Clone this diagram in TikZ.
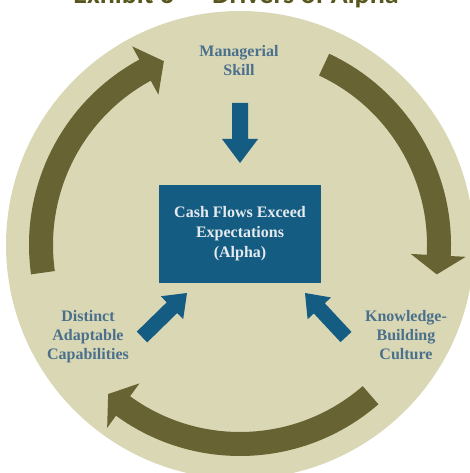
\documentclass[tikz,border=0pt]{standalone}
\usepackage{fontspec}
\setmainfont{Liberation Serif}
\newfontfamily\titlefont{Carlito}
\usetikzlibrary{calc}

\definecolor{disc}{RGB}{218,215,181}
\definecolor{cyclecol}{RGB}{104,99,50}
\definecolor{boxblue}{RGB}{21,92,130}
\definecolor{labelblue}{RGB}{74,112,140}
\definecolor{boxtext}{RGB}{228,234,238}
\definecolor{titleol}{RGB}{88,86,30}

% curved band arrow around (C): tail angle, head base angle, tip angle
\newcommand\cyclearrow[3]{%
  \fill[cyclecol, shift={(C)}]
    (#1:211) arc[start angle=#1, end angle=#2, radius=211]
    -- (#2:226) -- (#3:199) -- (#2:171) -- (#2:187)
    arc[start angle=#2, end angle=#1, radius=187] -- cycle;}

% straight block arrow: tail, tip, half shaft width, half head width, head length
\newcommand\blockarrow[5]{%
  \coordinate (ba-h) at ($(#2)!#5!(#1)$);
  \fill[boxblue]
    ($(#1)!#3!90:(#2)$) -- ($(ba-h)!#3!90:(#2)$) -- ($(ba-h)!#4!90:(#2)$)
    -- (#2)
    -- ($(ba-h)!#4!-90:(#2)$) -- ($(ba-h)!#3!-90:(#2)$) -- ($(#1)!#3!-90:(#2)$)
    -- cycle;}

\begin{document}
\begin{tikzpicture}[x=1pt,y=1pt,
  lbl/.style={font=\bfseries\fontsize{16}{19}\selectfont, text=labelblue,
    align=center, inner sep=0pt},
  centrebox/.style={fill=boxblue, text=boxtext, align=center, inner sep=0pt,
    minimum width=162pt, minimum height=98pt,
    font=\bfseries\fontsize{16}{20}\selectfont},
  titletext/.style={font=\titlefont\bfseries\fontsize{28}{30}\selectfont,
    text=titleol, inner sep=0pt}]
\useasboundingbox (0,0) rectangle (470,473);
\clip (0,0) rectangle (470,473);

% background disc
\coordinate (C) at (240,228);
\fill[disc] (C) circle[radius=234];

% heading
\node[titletext, anchor=base] (title) at (236,469) {Exhibit 3 — Drivers of Alpha};

% clockwise cycle of the three drivers
\cyclearrow{188}{118.5}{112.5}
\cyclearrow{65}{-3}{-8.5}
\cyclearrow{-49}{-126}{-131.5}

% drivers and outcome
\node[lbl] (mgr) at (239,412.5) {Managerial\\Skill};
\node[lbl] (dac) at (88,136) {Distinct\\Adaptable\\Capabilities};
\node[lbl] (kbc) at (406,137.5) {Knowledge-\\Building\\Culture};
\node[centrebox] (alpha) at (240,239) {Cash Flows Exceed\\Expectations\\(Alpha)};

% arrows into the outcome box
\coordinate (mgr-t) at (240,370);
\coordinate (mgr-h) at (240,310);
\coordinate (dac-t) at (142,136);
\coordinate (dac-h) at (187,180);
\coordinate (kbc-t) at (346,136);
\coordinate (kbc-h) at (305,180);
\blockarrow{mgr-t}{mgr-h}{8pt}{18pt}{24pt}
\blockarrow{dac-t}{dac-h}{7.5pt}{16pt}{21pt}
\blockarrow{kbc-t}{kbc-h}{7.5pt}{16pt}{21pt}
\end{tikzpicture}
\end{document}
